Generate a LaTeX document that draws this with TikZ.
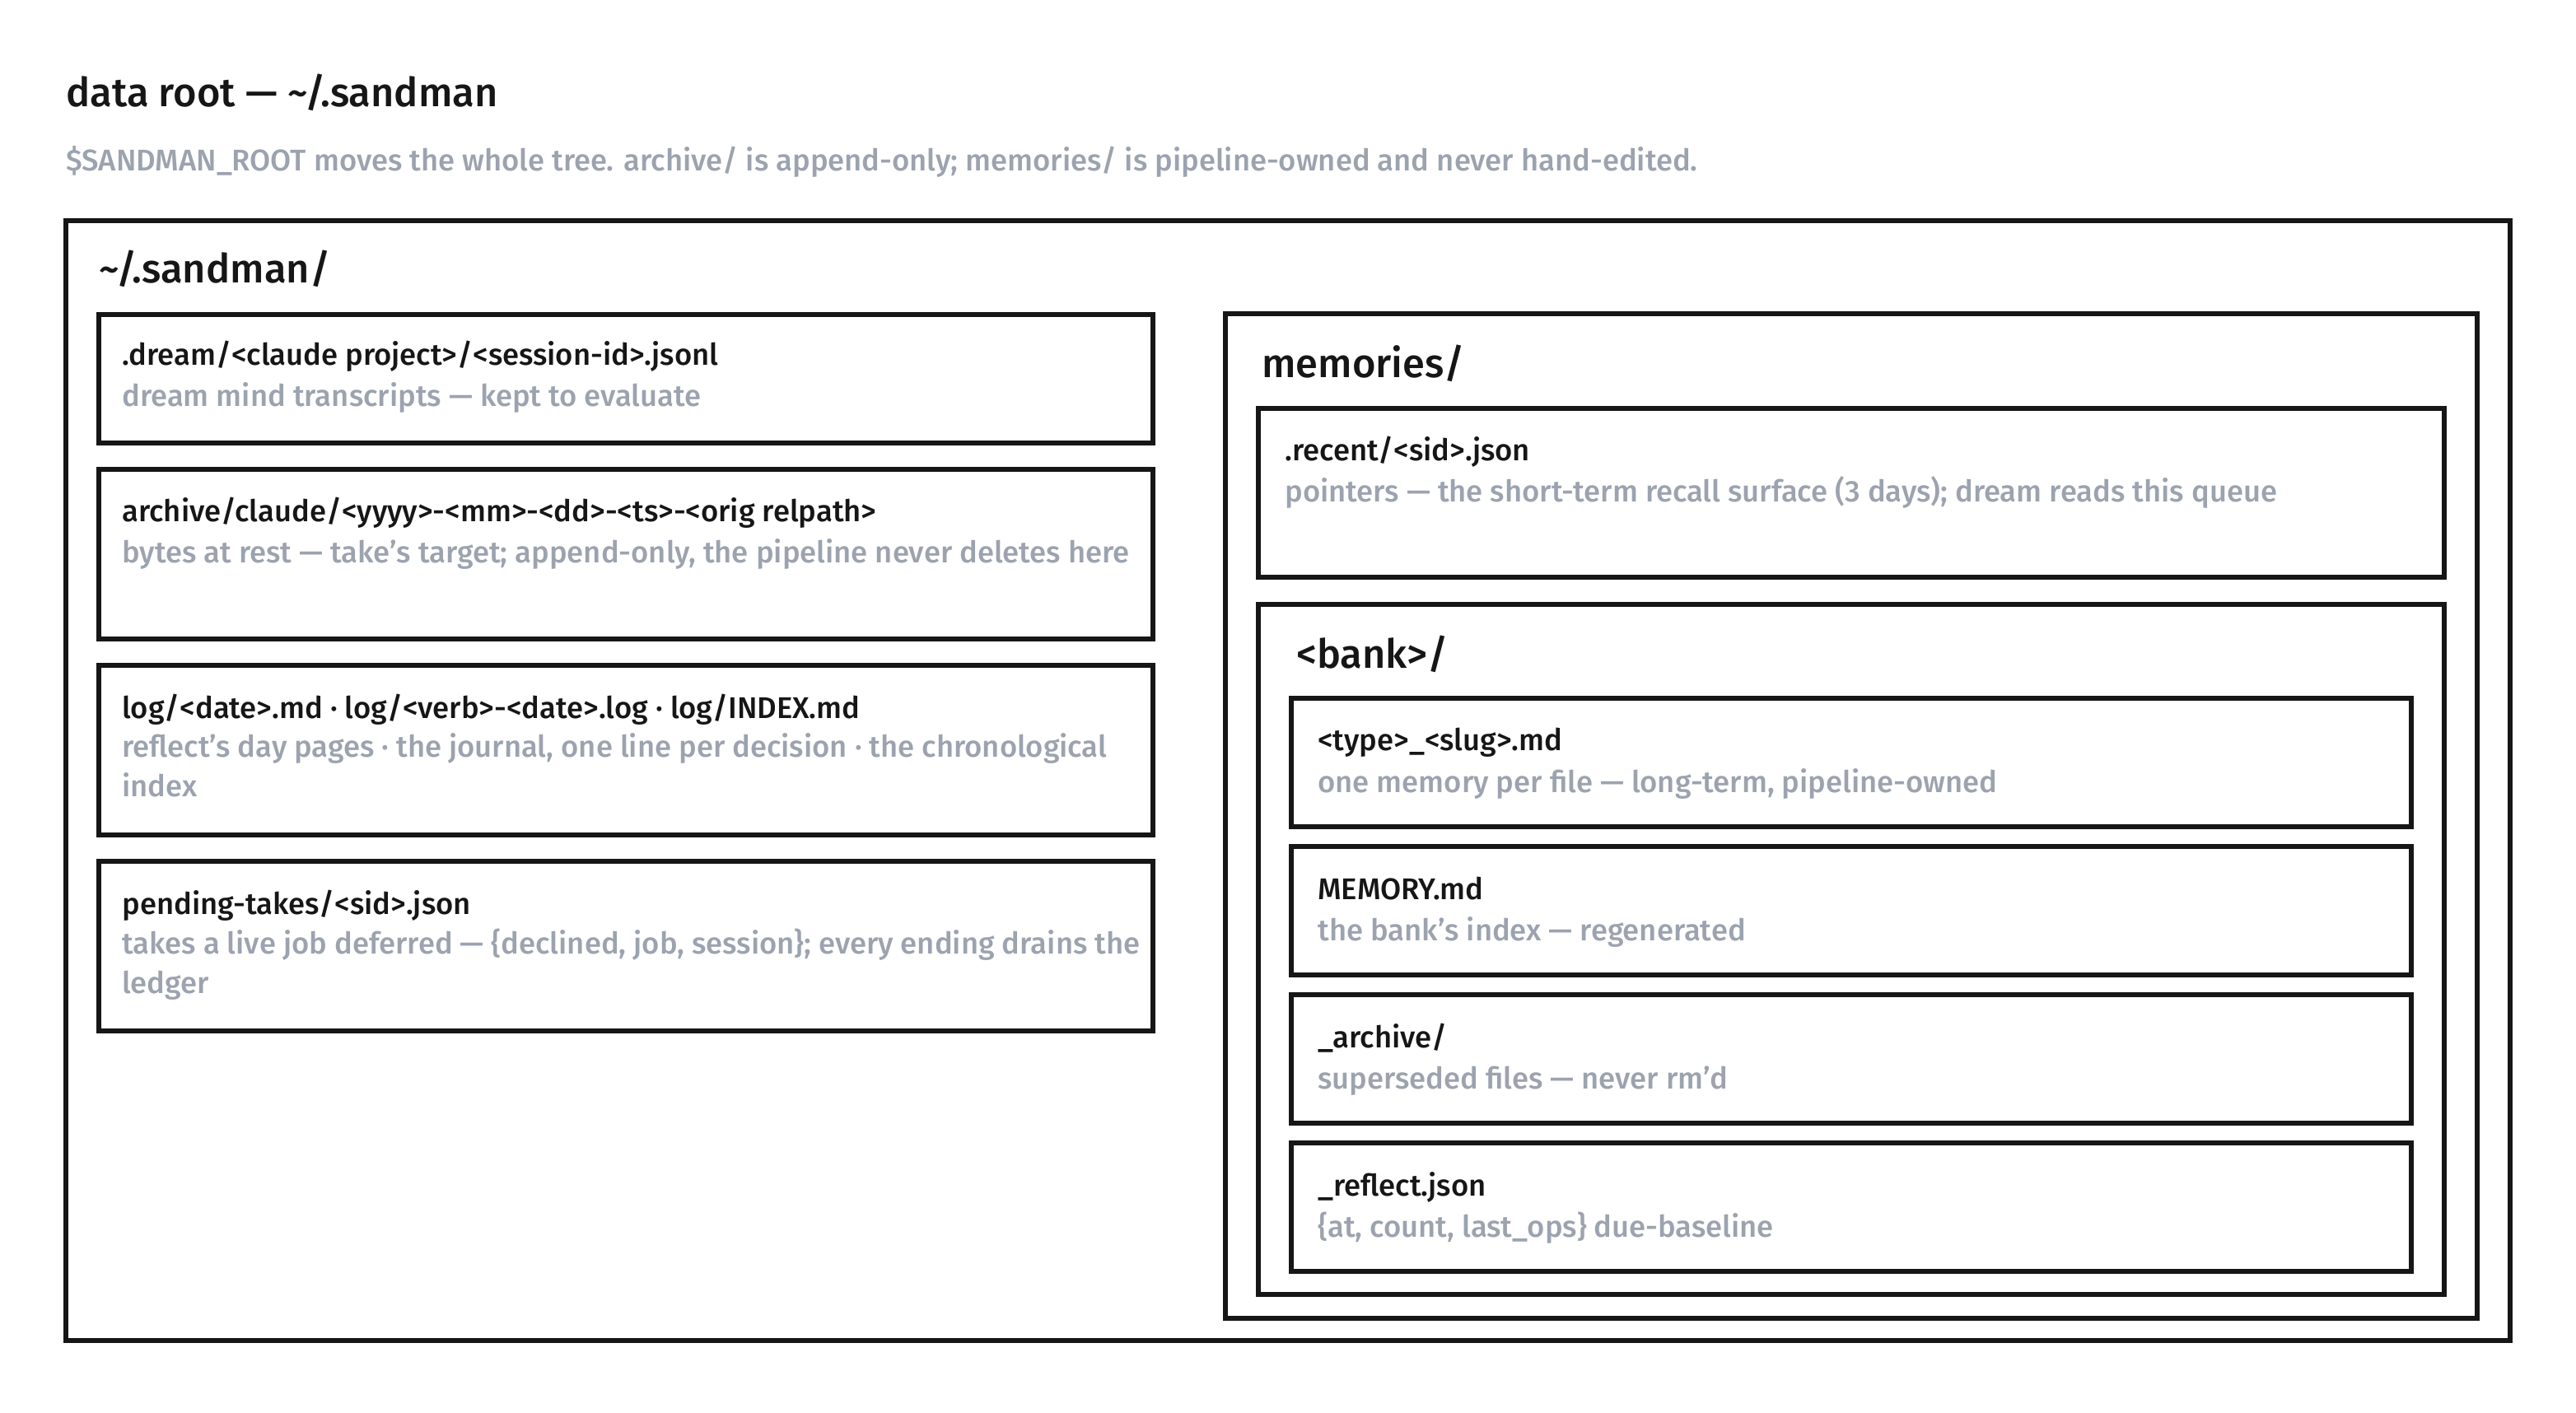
\documentclass[tikz,border=0pt]{standalone}
\usepackage{fontspec}
\setmainfont{Fira Sans}[UprightFont={* Medium}]
\usetikzlibrary{positioning}
\definecolor{ink}{HTML}{161616}
\definecolor{muted}{HTML}{9CA3AF}

\begin{document}
\begin{tikzpicture}[x=1pt, y=-1pt,
    folder/.style={draw=ink, line width=3pt, rectangle, anchor=north west, inner sep=0pt, outer sep=0pt},
    head/.style={anchor=base west, inner sep=0pt, text=ink, font=\fontsize{24.4}{28}\selectfont},
    fname/.style={anchor=base west, inner sep=0pt, text=ink, font=\fontsize{18.2}{24}\selectfont},
    fnote/.style={anchor=north west, inner sep=0pt, text=muted, align=left, font=\fontsize{18.2}{24}\selectfont, execute at begin node=\strut}]
    \useasboundingbox (0,0) rectangle (1564,858);

    % Titulo e legenda
    \node[head] (title) at (40,65) {data root — \textasciitilde/.sandman};
    \node[fname, text=muted] (legend) at (40,104) {\$SANDMAN\_ROOT moves the whole tree. archive/ is append-only; memories/ is pipeline-owned and never hand-edited.};

    % Caixa externa
    \node[folder, minimum width=1484pt, minimum height=680pt] (root) at (40,134) {};
    \node[head] (rootname) at ([xshift=20pt, yshift=-38pt]root.north west) {\textasciitilde/.sandman/};

    % Coluna da esquerda
    \node[folder, minimum width=640pt, minimum height=78pt] (dream) at (60,191) {};
    \node[folder, minimum width=640pt, minimum height=103pt] (archive) at (60,285) {};
    \node[folder, minimum width=640pt, minimum height=103pt] (log) at (60,404) {};
    \node[folder, minimum width=640pt, minimum height=103pt] (pending) at (60,523) {};

    \node[fname] (dreamname) at ([xshift=14pt, yshift=-31pt]dream.north west) {.dream/<claude project>/<session-id>.jsonl};
    \node[fnote] (dreamnote) at ([yshift=-8pt]dreamname.base west) {dream mind transcripts — kept to evaluate};
    \node[fname] (archivename) at ([xshift=14pt, yshift=-32pt]archive.north west) {archive/claude/<yyyy>-<mm>-<dd>-<ts>-<orig relpath>};
    \node[fnote] (archivenote) at ([yshift=-8pt]archivename.base west) {bytes at rest — take's target; append-only, the pipeline never deletes here};
    \node[fname] (logname) at ([xshift=14pt, yshift=-32pt]log.north west) {log/<date>.md · log/<verb>-<date>.log · log/INDEX.md};
    \node[fnote] (lognote) at ([yshift=-9pt]logname.base west) {reflect's day pages · the journal, one line per decision · the chronological\\index};
    \node[fname] (pendingname) at ([xshift=14pt, yshift=-32pt]pending.north west) {pending-takes/<sid>.json};
    \node[fnote] (pendingnote) at ([yshift=-9pt]pendingname.base west) {takes a live job deferred — \{declined, job, session\}; every ending drains the\\ledger};

    % Coluna da direita: memories/
    \node[folder, minimum width=760pt, minimum height=610pt] (memories) at (744,190.5) {};
    \node[head] (memoriesname) at ([xshift=22pt, yshift=-39pt]memories.north west) {memories/};
    \node[folder, minimum width=720pt, minimum height=102.5pt] (recent) at (764,248) {};
    \node[fname] (recentname) at ([xshift=16pt, yshift=-32pt]recent.north west) {.recent/<sid>.json};
    \node[fnote] (recentnote) at ([yshift=-8pt]recentname.base west) {pointers — the short-term recall surface (3 days); dream reads this queue};

    % <bank>/
    \node[folder, minimum width=720pt, minimum height=419pt] (bank) at (764,367) {};
    \node[head] (bankname) at ([xshift=23pt, yshift=-39pt]bank.north west) {<bank>/};
    \node[folder, minimum width=680pt, minimum height=78pt] (type) at (784,424) {};
    \node[folder, minimum width=680pt, minimum height=78pt] (index) at (784,514) {};
    \node[folder, minimum width=680pt, minimum height=78pt] (superseded) at (784,604) {};
    \node[folder, minimum width=680pt, minimum height=78pt] (reflect) at (784,694) {};

    \node[fname] (typename) at ([xshift=16pt, yshift=-32pt]type.north west) {<type>\_<slug>.md};
    \node[fnote] (typenote) at ([yshift=-8pt]typename.base west) {one memory per file — long-term, pipeline-owned};
    \node[fname] (indexname) at ([xshift=16pt, yshift=-32pt]index.north west) {MEMORY.md};
    \node[fnote] (indexnote) at ([yshift=-8pt]indexname.base west) {the bank's index — regenerated};
    \node[fname] (supersededname) at ([xshift=16pt, yshift=-32pt]superseded.north west) {\_archive/};
    \node[fnote] (supersedednote) at ([yshift=-8pt]supersededname.base west) {superseded files — never rm'd};
    \node[fname] (reflectname) at ([xshift=16pt, yshift=-32pt]reflect.north west) {\_reflect.json};
    \node[fnote] (reflectnote) at ([yshift=-8pt]reflectname.base west) {\{at, count, last\_ops\} due-baseline};
  \end{tikzpicture}
\end{document}
